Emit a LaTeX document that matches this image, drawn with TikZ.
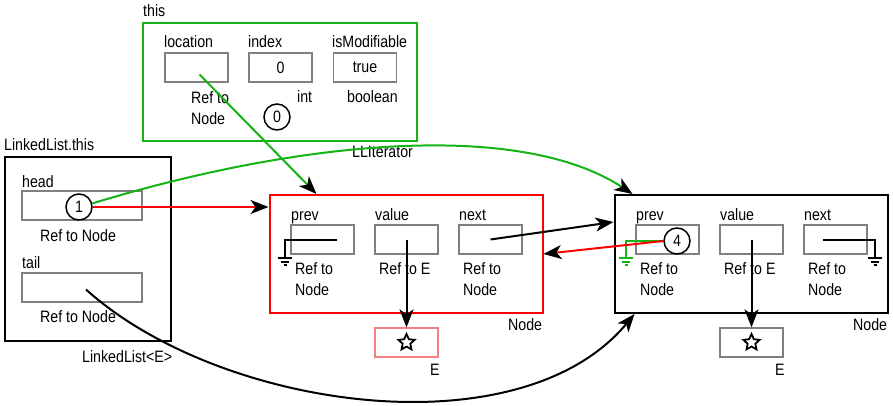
\documentclass[tikz,border=0pt]{standalone}
\usepackage{fontspec}
\setmainfont{Liberation Sans}[FakeStretch=0.86]
\usetikzlibrary{shapes.geometric,arrows.meta,calc,positioning}
\definecolor{lgreen}{RGB}{20,180,20}
\definecolor{lred}{RGB}{240,130,130}
\definecolor{fgrey}{RGB}{128,128,128}
\tikzset{
  every node/.style={font=\fontsize{16.5}{21.5}\selectfont},
  lbl/.style={anchor=base west,inner sep=0pt},
  twoline/.style={anchor=north west,inner sep=0pt,align=left},
  field/.style={draw=fgrey,line width=1.3pt,minimum width=63pt,minimum height=29pt,inner sep=0pt},
  objbox/.style={draw,line width=2pt,minimum width=273pt,minimum height=118pt,inner sep=0pt},
  refno/.style={circle,draw,line width=1.5pt,fill=white,minimum size=26pt,inner sep=0pt},
  starmark/.style={star,star points=5,star point ratio=2.1,draw,line width=1.8pt,minimum size=17pt,inner sep=0pt},
  wire/.style={line width=2pt},
  ptr/.style={line width=2pt,-{Stealth[length=18pt,width=14pt,inset=5pt,color=black]}},
  earth/.pic={\draw[line width=2pt] (-7,0) -- (7,0) (-4,3.5) -- (4,3.5) (-1.5,7) -- (1.5,7);}
}
\begin{document}
\begin{tikzpicture}[x=1pt,y=-1pt]
\useasboundingbox (0,0) rectangle (893,406);
% the iterator
\node[objbox,draw=lgreen,minimum width=274pt] (iter) at (280,82) {};
\node[lbl] (iterlbl) at (143,17) {this};
\node[lbl] (loclbl) at (164,48) {location};
\node[lbl] (idxlbl) at (248,48) {index};
\node[lbl] (modlbl) at (332,48) {isModifiable};
\node[field] (loc) at (196.5,67.5) {};
\node[field] (idx) at (280.5,67.5) {0};
\node[field] (mod) at (365,67.5) {true};
\node[twoline] (loctype) at (191,91) {Ref to\\Node};
\node[lbl] (idxtype) at (297,103) {int};
\node[lbl] (modtype) at (347,103) {boolean};
\node[refno] (c0) at (277,117) {0};
\node[lbl] (iterclass) at (352,158) {LLIterator};
% the list
\node[draw,line width=2pt,minimum width=166pt,minimum height=184pt] (list) at (88,249) {};
\node[lbl] (listlbl) at (4,151) {LinkedList.this};
\node[lbl] (headlbl) at (22,187) {head};
\node[draw=fgrey,line width=1.3pt,minimum width=120pt,minimum height=29pt] (head) at (82,205.5) {};
\node[lbl] (headtype) at (40,241.5) {Ref to Node};
\node[lbl] (taillbl) at (22,268) {tail};
\node[draw=fgrey,line width=1.3pt,minimum width=120pt,minimum height=29pt] (tail) at (82,287.5) {};
\node[lbl] (tailtype) at (40,322.5) {Ref to Node};
\node[lbl] (listclass) at (82,362) {LinkedList<E>};
% first node
\node[objbox,draw=red] (node1) at (406,254) {};
\node[lbl] (p1lbl) at (291,220) {prev};
\node[lbl] (v1lbl) at (375,220) {value};
\node[lbl] (x1lbl) at (459,220) {next};
\node[field] (p1) at (322.5,239.5) {};
\node[field] (v1) at (406.5,239.5) {};
\node[field] (x1) at (490.5,239.5) {};
\node[twoline] (p1type) at (295,262) {Ref to\\Node};
\node[lbl] (v1type) at (379,274) {Ref to E};
\node[twoline] (x1type) at (463,262) {Ref to\\Node};
\node[lbl] (node1lbl) at (508,330.5) {Node};
\node[field,draw=lred] (e1) at (406.5,342.5) {};
\node[starmark] (s1) at (e1) {};
\node[lbl] (e1lbl) at (430,375) {E};
% second node
\begin{scope}[xshift=345pt]
\node[objbox] (node2) at (406,254) {};
\node[lbl] (p2lbl) at (291,220) {prev};
\node[lbl] (v2lbl) at (375,220) {value};
\node[lbl] (x2lbl) at (459,220) {next};
\node[field] (p2) at (322.5,239.5) {};
\node[field] (v2) at (406.5,239.5) {};
\node[field] (x2) at (490.5,239.5) {};
\node[twoline] (p2type) at (295,262) {Ref to\\Node};
\node[lbl] (v2type) at (379,274) {Ref to E};
\node[twoline] (x2type) at (463,262) {Ref to\\Node};
\node[lbl] (node2lbl) at (508,330.5) {Node};
\node[field] (e2) at (406.5,342.5) {};
\node[starmark] (s2) at (e2) {};
\node[lbl] (e2lbl) at (430,375) {E};
\end{scope}
% references
\coordinate (g1) at (285,258);
\coordinate (g2) at (626,258);
\coordinate (g3) at (875,258);
\draw[wire] ([xshift=14.5pt]p1.center) -| (g1);
\pic at (g1) {earth};
\draw[ptr] (v1.center) -- (e1.north);
\draw[ptr] (x1.center) -- ([yshift=32pt]node2.west);
\draw[ptr] (v2.center) -- (e2.north);
\draw[wire] ([xshift=-12.5pt]x2.center) -| (g3);
\pic at (g3) {earth};
\node[refno] (c4) at (677,241) {4};
\draw[wire,lgreen] (c4.west) -| (g2);
\pic[lgreen] at (g2) {earth};
\draw[ptr,red] (c4.west) -- (node1.east);
\node[refno] (c1) at (79,207) {1};
\draw[ptr,red] (c1.east) -- (c1 -| node1.west);
\draw[ptr,lgreen] (c1.15) .. controls (300,140) and (520,120) .. ([xshift=19pt]node2.north west);
\draw[ptr] ([shift={(4pt,-2pt)}]tail.center) .. controls (220,410) and (520,452) .. ([xshift=21pt]node2.south west);
\draw[ptr,lgreen] ([shift={(3pt,-7pt)}]loc.center) -- ([xshift=48pt]node1.north west);
\end{tikzpicture}
\end{document}
